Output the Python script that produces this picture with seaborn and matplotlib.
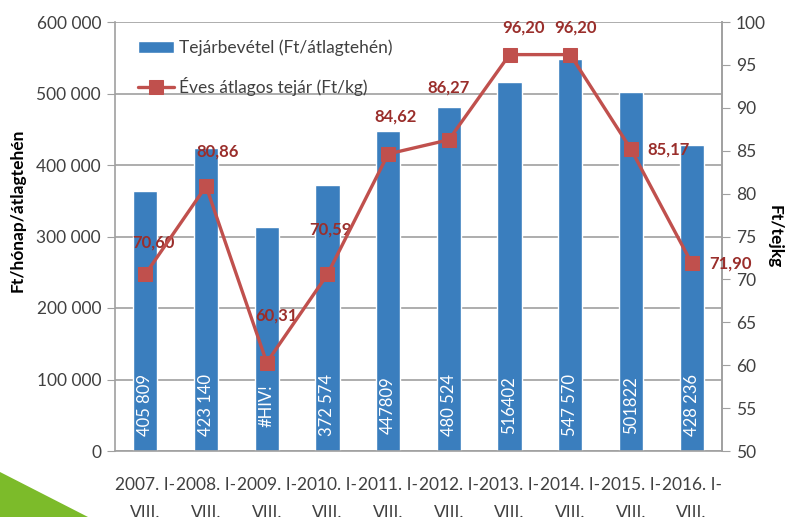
import numpy as np
import pandas as pd
import matplotlib
matplotlib.use("Agg")
import matplotlib.pyplot as plt
from matplotlib.patches import Polygon
import seaborn as sns

# ─── Data ─────────────────────────────────────────────────────────────────────
YEARS = ["2007", "2008", "2009", "2010", "2011",
         "2012", "2013", "2014", "2015", "2016"]
REVENUE = [363000, 423140, 313000, 372574, 447809,
           480524, 516402, 547570, 501822, 428236]
REVENUE_LABELS = ["405 809", "423 140", "#HIV!", "372 574", "447809",
                  "480 524", "516402", "547 570", "501822", "428 236"]
MILK_PRICE = [70.60, 80.86, 60.31, 70.59, 84.62,
              86.27, 96.20, 96.20, 85.17, 71.90]
PRICE_LABELS = ["70,60", "80,86", "60,31", "70,59", "84,62",
                "86,27", "96,20", "96,20", "85,17", "71,90"]
LEFT_TICKS = [0, 100000, 200000, 300000, 400000, 500000, 600000]
LEFT_TICK_LABELS = ["0", "100 000", "200 000", "300 000", "400 000",
                    "500 000", "600 000"]
RIGHT_TICKS = [50, 55, 60, 65, 70, 75, 80, 85, 90, 95, 100]

# label offsets (pixels) for the price labels
PRICE_OFFSETS = [(8, 32), (12, 35), (10, 47), (3, 45), (7, 37),
                 (0, 52), (14, 27), (5, 27), (38, 0), (39, 0)]

BAR_BLUE = "#3A7EBE"
LINE_RED = "#C0504D"
LABEL_RED = "#9A2E2B"
GRID = "#A0A0A0"
TEXT = "#404040"

df = pd.DataFrame({
    "cat": [f"{y}. I-\nVIII." for y in YEARS],
    "revenue": REVENUE,
    "price": MILK_PRICE,
})

sns.set_style("white")
plt.rcParams["font.family"] = ["Lato", "DejaVu Sans"]

fig = plt.figure(figsize=(7.91, 5.17), dpi=100)
ax = fig.add_axes([115 / 791, 66 / 517, 607 / 791, 429 / 517])

sns.barplot(data=df, x="cat", y="revenue", color=BAR_BLUE, width=0.4,
            saturation=1, ax=ax, zorder=2)
ax.set_ylim(0, 600000)
ax.set_yticks(LEFT_TICKS)
ax.set_yticklabels(LEFT_TICK_LABELS)
ax.yaxis.grid(True, color=GRID, linewidth=1.2, zorder=0)
ax.set_axisbelow(True)
ax.set_xlabel("")
ax.set_ylabel("Ft/hónap/átlagtehén", fontsize=12.5, fontweight="bold",
              color="black")
ax.yaxis.set_label_coords(-0.148, 0.56)

for i, lab in enumerate(REVENUE_LABELS):
    ax.text(i, 64000, lab, rotation=90, ha="center", va="center",
            color="white", fontsize=12, zorder=3)

ax2 = ax.twinx()
sns.lineplot(data=df, x="cat", y="price", color=LINE_RED, linewidth=2.4,
             marker="s", markersize=10, markeredgecolor=LINE_RED,
             sort=False, ax=ax2, zorder=4)
ax2.set_ylim(50, 100)
ax2.set_yticks(RIGHT_TICKS)
ax2.set_ylabel("Ft/tejkg", fontsize=12.5, fontweight="bold", color="black",
               rotation=270)
ax2.yaxis.set_label_coords(1.1, 0.5)

for i, (lab, off) in enumerate(zip(PRICE_LABELS, PRICE_OFFSETS)):
    ax2.annotate(lab, (i, MILK_PRICE[i]), xytext=off,
                 textcoords="offset pixels", ha="center", va="center",
                 color=LABEL_RED, fontsize=12, fontweight="bold")

ax.set_xlim(-0.5, len(YEARS) - 0.5)

# axes styling
for a in (ax, ax2):
    a.spines["top"].set_visible(False)
    for s in ("left", "right", "bottom"):
        a.spines[s].set_color(GRID)
        a.spines[s].set_linewidth(1.2)
ax2.spines["left"].set_visible(False)
ax2.spines["bottom"].set_visible(False)

ax.tick_params(axis="y", direction="out", length=6, color=GRID,
               labelsize=12.5, labelcolor=TEXT, pad=4)
ax2.tick_params(axis="y", direction="out", length=6, color=GRID,
                labelsize=12.5, labelcolor=TEXT, pad=4)
ax.set_xticks(np.arange(-0.5, len(YEARS), 1.0), minor=True)
ax.tick_params(axis="x", which="minor", direction="out", length=7,
               color=GRID, width=1.2)
ax.tick_params(axis="x", which="major", length=0, labelsize=12.5,
               labelcolor=TEXT, pad=19)
for t in ax.get_xticklabels():
    t.set_linespacing(1.9)

# legend
handles = [ax.containers[0].patches[0], ax2.lines[0]]
leg = ax.legend(handles, ["Tejárbevétel (Ft/átlagtehén)",
                          "Éves átlagos tejár (Ft/kg)"],
                loc="upper left", bbox_to_anchor=(0.026, 0.975),
                frameon=False, fontsize=12.5, handlelength=2.1,
                handleheight=0.7, labelspacing=1.2, borderaxespad=0,
                handletextpad=0.3)
for t in leg.get_texts():
    t.set_color(TEXT)

# green slide decoration in the corner
fig.patches.append(Polygon([(0, 0), (0, 45 / 517), (88 / 791, 0)],
                           closed=True, transform=fig.transFigure,
                           facecolor="#7CBB2A", edgecolor="none"))

fig.savefig("out.png", dpi=100)
